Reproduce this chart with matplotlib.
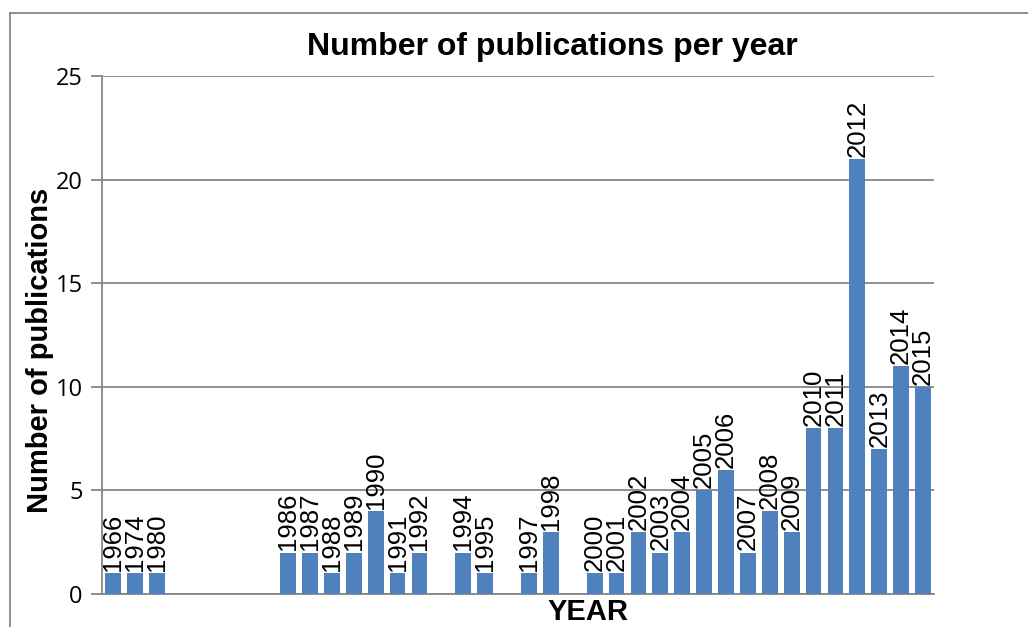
import matplotlib
matplotlib.use("Agg")
import matplotlib.pyplot as plt
from matplotlib.lines import Line2D

# categories as shown in the chart (1981 onward every year has a slot)
years = ["1966", "1974", "1980"] + [str(y) for y in range(1981, 2016)]
counts = {
    "1966": 1, "1974": 1, "1980": 1,
    "1986": 2, "1987": 2, "1988": 1, "1989": 2, "1990": 4, "1991": 1, "1992": 2,
    "1994": 2, "1995": 1, "1997": 1, "1998": 3,
    "2000": 1, "2001": 1, "2002": 3, "2003": 2, "2004": 3, "2005": 5, "2006": 6,
    "2007": 2, "2008": 4, "2009": 3, "2010": 8, "2011": 8, "2012": 21, "2013": 7,
    "2014": 11, "2015": 10,
}
values = [counts.get(y, 0) for y in years]
yticks = [0, 5, 10, 15, 20, 25]

W, H = 1028, 627
fig = plt.figure(figsize=(W / 100, H / 100), dpi=100)
ax = fig.add_axes([102 / W, 1 - 594 / H, (934 - 102) / W, (594 - 76) / H])

grey = "#868686"
x = list(range(len(years)))
bars = ax.bar(x, values, width=0.72, color="#4F81BD", zorder=3)
for xi, v, lab in zip(x, values, years):
    if v > 0:
        ax.text(xi, v + 0.1, lab, rotation=90, ha="center", va="bottom",
                fontsize=18.5, family="Liberation Sans", zorder=4)

ax.set_xlim(-0.5, len(years) - 0.5)
ax.set_ylim(0, 25)
ax.set_yticks(yticks)
ax.set_xticks([])
ax.yaxis.grid(True, color=grey, linewidth=1.3, zorder=0)
ax.tick_params(axis="y", length=8, color=grey, width=1.3, labelsize=17, pad=6)
for s in ["top", "right"]:
    ax.spines[s].set_visible(False)
for s in ["left", "bottom"]:
    ax.spines[s].set_color(grey)
    ax.spines[s].set_linewidth(1.3)
for t in ax.get_yticklabels():
    t.set_family("Open Sans")

fig.text(552 / W, 1 - 47 / H, "Number of publications per year", ha="center", va="center",
         fontsize=23, fontweight="bold", family="Liberation Sans")
fig.text(588 / W, 1 - 612 / H, "YEAR", ha="center", va="center",
         fontsize=21, fontweight="bold", family="Liberation Sans")
fig.text(40 / W, 1 - 350 / H, "Number of publications", ha="center", va="center",
         rotation=90, fontsize=21, fontweight="bold", family="Liberation Sans")

# outer chart frame
fig.add_artist(Line2D([10 / W, 1.0], [1 - 13 / H] * 2, color=grey, lw=1.3, transform=fig.transFigure))
fig.add_artist(Line2D([10 / W] * 2, [0, 1 - 13 / H], color=grey, lw=1.3, transform=fig.transFigure))

fig.savefig("out.png", dpi=100)
